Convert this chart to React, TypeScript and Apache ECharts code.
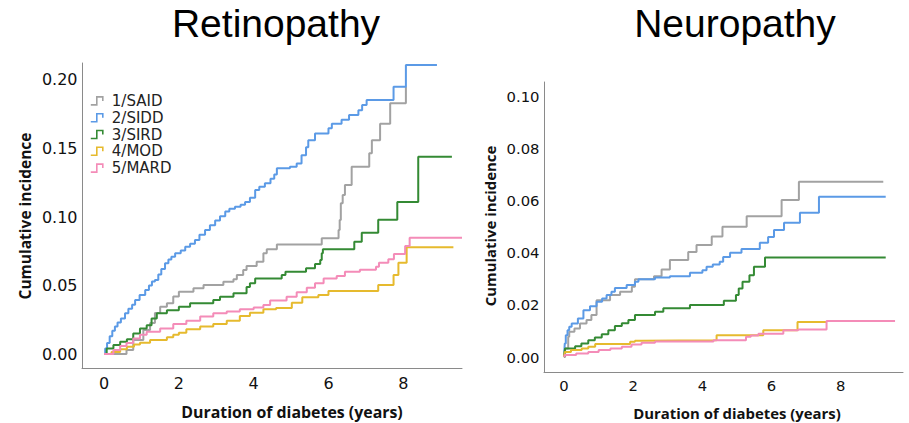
import React, { useEffect, useRef } from "react";
import * as echarts from "echarts";

const groupNames = ["1/SAID", "2/SIDD", "3/SIRD", "4/MOD", "5/MARD"];
const groupColors = ["#a2a2a2", "#5b9ae6", "#348a34", "#e6ba2e", "#f48cb8"];

const panelTitles = ["Retinopathy", "Neuropathy"];
const xAxisTitle = "Duration of diabetes (years)";
const yAxisTitle = "Cumulative incidence";
const xTicks = [0, 2, 4, 6, 8];
const retYTicks = [0, 0.05, 0.1, 0.15, 0.2];
const neuYTicks = [0, 0.02, 0.04, 0.06, 0.08, 0.1];

// Retinopathy: [years, cumulative incidence]
const retSAID = [[0, 0], [0.6, 0.0029], [0.78, 0.0102], [1.05, 0.0175], [1.23, 0.0226], [1.36, 0.03], [1.5, 0.0345], [1.68, 0.037], [1.85, 0.042], [2.0, 0.0455], [2.39, 0.048], [2.66, 0.0504], [3.19, 0.0528], [3.46, 0.0545], [3.55, 0.0577], [3.72, 0.0613], [3.81, 0.0642], [4.08, 0.0674], [4.26, 0.0735], [4.35, 0.0764], [4.62, 0.08], [5.82, 0.0845], [6.27, 0.0905], [6.3, 0.0978], [6.33, 0.11], [6.38, 0.116], [6.44, 0.1234], [6.62, 0.1367], [7.09, 0.1465], [7.16, 0.156], [7.38, 0.168], [7.65, 0.183], [8.07, 0.195]];
const retSIDD = [[0, 0], [0.03, 0.004], [0.08, 0.008], [0.15, 0.013], [0.22, 0.017], [0.29, 0.02], [0.36, 0.023], [0.45, 0.026], [0.56, 0.0297], [0.65, 0.033], [0.75, 0.036], [0.83, 0.0394], [0.95, 0.043], [1.1, 0.0467], [1.2, 0.05], [1.28, 0.053], [1.36, 0.054], [1.45, 0.058], [1.53, 0.062], [1.63, 0.0662], [1.72, 0.069], [1.8, 0.071], [1.9, 0.0735], [2.05, 0.0755], [2.17, 0.0783], [2.3, 0.0805], [2.43, 0.0832], [2.55, 0.087], [2.7, 0.0905], [2.83, 0.094], [2.97, 0.0975], [3.1, 0.1005], [3.24, 0.104], [3.35, 0.106], [3.5, 0.1075], [3.65, 0.109], [3.77, 0.111], [3.9, 0.114], [4.04, 0.1197], [4.15, 0.122], [4.3, 0.1246], [4.45, 0.128], [4.55, 0.131], [4.62, 0.1355], [4.97, 0.1367], [5.15, 0.139], [5.28, 0.145], [5.4, 0.151], [5.46, 0.156], [5.64, 0.161], [6.0, 0.1647], [6.09, 0.168], [6.35, 0.171], [6.55, 0.1745], [6.8, 0.178], [6.9, 0.1818], [7.02, 0.1854], [7.74, 0.195], [8.07, 0.211], [8.9, 0.211]];
const retSIRD = [[0, 0], [0.07, 0.0041], [0.25, 0.0066], [0.43, 0.009], [0.61, 0.0107], [0.78, 0.015], [0.96, 0.0187], [1.14, 0.021], [1.27, 0.026], [1.41, 0.0297], [1.68, 0.032], [2.0, 0.0345], [2.3, 0.037], [2.92, 0.0394], [3.1, 0.0418], [3.46, 0.0443], [3.81, 0.049], [3.9, 0.0516], [4.04, 0.0552], [4.75, 0.0577], [4.85, 0.06], [5.4, 0.0626], [5.64, 0.0657], [5.78, 0.0686], [5.82, 0.0735], [5.85, 0.0764], [6.69, 0.082], [6.89, 0.0886], [7.33, 0.098], [7.84, 0.111], [8.4, 0.144], [9.3, 0.144]];
const retMOD = [[0, 0], [0.2, 0.0015], [0.43, 0.0034], [0.61, 0.0053], [0.8, 0.007], [0.96, 0.0083], [1.23, 0.0102], [1.68, 0.0122], [1.85, 0.014], [2.0, 0.0156], [2.2, 0.018], [2.57, 0.02], [2.92, 0.0219], [3.28, 0.0243], [3.63, 0.0277], [3.9, 0.0302], [4.26, 0.0326], [4.6, 0.0335], [5.02, 0.0375], [5.3, 0.0414], [5.73, 0.043], [6.0, 0.046], [7.33, 0.0504], [7.74, 0.0577], [7.87, 0.0667], [8.09, 0.0779], [9.34, 0.0779]];
const retMARD = [[0, 0], [0.25, 0.0029], [0.43, 0.0058], [0.6, 0.008], [0.78, 0.0114], [0.96, 0.014], [1.14, 0.0163], [1.5, 0.0187], [1.85, 0.0219], [2.2, 0.0243], [2.57, 0.0273], [2.92, 0.0297], [3.28, 0.031], [3.63, 0.0326], [4.0, 0.034], [4.26, 0.0358], [4.44, 0.039], [4.88, 0.0418], [5.15, 0.045], [5.42, 0.0484], [5.64, 0.0516], [5.87, 0.0552], [6.22, 0.057], [6.44, 0.06], [6.84, 0.0615], [7.27, 0.0637], [7.35, 0.0667], [7.6, 0.0691], [7.75, 0.073], [8.05, 0.0788], [8.17, 0.0849], [9.57, 0.0849]];

// Neuropathy
const neuSAID = [[0, 0], [0.03, 0.0033], [0.12, 0.0078], [0.15, 0.0097], [0.3, 0.011], [0.46, 0.0129], [0.65, 0.0142], [0.79, 0.0161], [0.94, 0.0218], [1.33, 0.0238], [1.62, 0.025], [1.96, 0.027], [2.05, 0.0298], [2.6, 0.031], [2.82, 0.0336], [3.06, 0.0372], [3.59, 0.0403], [3.83, 0.043], [4.27, 0.0462], [4.58, 0.0499], [5.28, 0.054], [6.29, 0.0602], [6.79, 0.0672], [9.23, 0.0672]];
const neuSIDD = [[0, 0], [0.02, 0.0052], [0.05, 0.0084], [0.1, 0.0103], [0.15, 0.0116], [0.22, 0.0129], [0.4, 0.0148], [0.56, 0.018], [0.75, 0.0195], [0.94, 0.0212], [1.1, 0.0225], [1.23, 0.0238], [1.37, 0.025], [1.47, 0.0265], [1.81, 0.0276], [2.05, 0.0289], [2.15, 0.0298], [2.63, 0.0305], [3.06, 0.031], [3.64, 0.0323], [4.0, 0.0333], [4.12, 0.0346], [4.3, 0.0355], [4.5, 0.0365], [4.6, 0.0384], [4.8, 0.04], [5.13, 0.0414], [5.66, 0.0438], [5.9, 0.046], [6.07, 0.0487], [6.36, 0.0515], [6.82, 0.0553], [7.37, 0.0614], [9.3, 0.0614]];
const neuSIRD = [[0, 0], [0.01, 0.0014], [0.03, 0.0033], [0.32, 0.0042], [0.5, 0.0052], [0.7, 0.0065], [0.89, 0.0075], [1.09, 0.0088], [1.28, 0.0103], [1.47, 0.0119], [1.67, 0.013], [1.86, 0.0142], [2.05, 0.0161], [2.63, 0.0174], [2.87, 0.0187], [3.64, 0.02], [4.62, 0.0216], [4.97, 0.0238], [5.05, 0.0263], [5.16, 0.0289], [5.36, 0.0314], [5.49, 0.0346], [5.81, 0.0382], [9.3, 0.0382]];
const neuMOD = [[0, 0], [0.02, 0.002], [0.2, 0.0027], [0.51, 0.0033], [0.7, 0.004], [0.9, 0.005], [1.91, 0.0059], [2.05, 0.0063], [2.24, 0.0065], [4.41, 0.0084], [5.76, 0.0103], [6.75, 0.0135], [7.6, 0.0135]];
const neuMARD = [[0, 0], [0.02, 0.0008], [0.35, 0.0014], [0.7, 0.002], [1.0, 0.0027], [1.34, 0.0033], [1.67, 0.004], [1.95, 0.0048], [2.24, 0.0055], [2.63, 0.006], [4.32, 0.0065], [5.26, 0.0078], [5.4, 0.0083], [5.62, 0.009], [6.34, 0.0103], [6.77, 0.0106], [7.59, 0.0138], [9.57, 0.0138]];

const retSeries = [retSAID, retSIDD, retSIRD, retMOD, retMARD];
const neuSeries = [neuSAID, neuSIDD, neuSIRD, neuMOD, neuMARD];

const TICK_FONT = "DejaVu Sans";
const AXIS_TITLE_FONT = "Open Sans";
const PANEL_TITLE_FONT = "Liberation Sans";

function makeAxes(idx: number, xMin: number, xMax: number, yMin: number, yMax: number, yTicks: number[], fs: number, xMargin: number) {
  const axisLine = { show: true, onZero: false, lineStyle: { color: "#8a8a8a", width: 1 } };
  const x = {
    type: "value", gridIndex: idx, min: xMin, max: xMax,
    axisLine, axisTick: { show: false }, splitLine: { show: false },
    axisLabel: { customValues: xTicks, margin: xMargin, fontSize: fs, fontFamily: TICK_FONT, color: "#111", formatter: (v: number) => String(v) },
  };
  const y = {
    type: "value", gridIndex: idx, min: yMin, max: yMax,
    axisLine, axisTick: { show: false }, splitLine: { show: false },
    axisLabel: { customValues: yTicks, margin: 4.5, fontSize: fs, fontFamily: TICK_FONT, color: "#111", formatter: (v: number) => v.toFixed(2) },
  };
  return { x, y };
}

export default function App() {
  const ref = useRef<HTMLDivElement>(null);
  useEffect(() => {
    if (!ref.current) return;
    const chart = echarts.init(ref.current, undefined, { renderer: "svg" });
    const left = makeAxes(0, -0.59, 9.57, -0.0102, 0.2124, retYTicks, 16, 7);
    const right = makeAxes(1, -0.58, 9.8, -0.0057, 0.1054, neuYTicks, 14.8, 6);
    const series: any[] = [];
    [retSeries, neuSeries].forEach((set, p) => {
      set.forEach((d, i) => {
        series.push({
          type: "line", name: groupNames[i], xAxisIndex: p, yAxisIndex: p,
          data: d, step: "end", symbol: "none", showSymbol: false,
          lineStyle: { width: 2, color: groupColors[i] },
          itemStyle: { color: groupColors[i] },
          z: 2 + i,
        });
      });
    });
    const option: any = {
      animation: false,
      grid: [
        { left: 82, top: 63, width: 380, height: 305 },
        { left: 544, top: 82, width: 359, height: 290 },
      ],
      xAxis: [left.x, right.x],
      yAxis: [left.y, right.y],
      legend: {
        orient: "vertical", left: 90, top: 92.5, padding: 0, itemWidth: 12, itemHeight: 8, itemGap: 0,
        icon: "path://M0,8L6,8L6,0L12,0L12,4",
        textStyle: { fontSize: 15, fontFamily: TICK_FONT, color: "#222", lineHeight: 16.8, padding: [0, 0, 0, 4] },
        data: groupNames.map((n, i) => ({ name: n, itemStyle: { color: "transparent", borderColor: groupColors[i], borderWidth: 1.6 } })),
      },
      graphic: [
        { type: "text", x: 276, y: 23, style: { text: panelTitles[0], fontSize: 39, fontFamily: PANEL_TITLE_FONT, fill: "#000", align: "center", verticalAlign: "middle" } },
        { type: "text", x: 735, y: 23, style: { text: panelTitles[1], fontSize: 39, fontFamily: PANEL_TITLE_FONT, fill: "#000", align: "center", verticalAlign: "middle" } },
        { type: "text", x: 292, y: 411.5, style: { text: xAxisTitle, fontSize: 15.9, fontWeight: "bold", fontFamily: AXIS_TITLE_FONT, fill: "#111", align: "center", verticalAlign: "middle" } },
        { type: "text", x: 737, y: 413, style: { text: xAxisTitle, fontSize: 14.9, fontWeight: "bold", fontFamily: AXIS_TITLE_FONT, fill: "#111", align: "center", verticalAlign: "middle" } },
        { type: "text", x: 25, y: 216, rotation: Math.PI / 2, style: { text: yAxisTitle, fontSize: 15.5, fontWeight: "bold", fontFamily: AXIS_TITLE_FONT, fill: "#111", align: "center", verticalAlign: "middle" } },
        { type: "text", x: 490, y: 226, rotation: Math.PI / 2, style: { text: yAxisTitle, fontSize: 14.9, fontWeight: "bold", fontFamily: AXIS_TITLE_FONT, fill: "#111", align: "center", verticalAlign: "middle" } },
      ],
      series,
    };
    chart.setOption(option);
    return () => chart.dispose();
  }, []);
  return <div ref={ref} style={{ width: 909, height: 423, position: "absolute", left: 0, top: 0 }} />;
}
